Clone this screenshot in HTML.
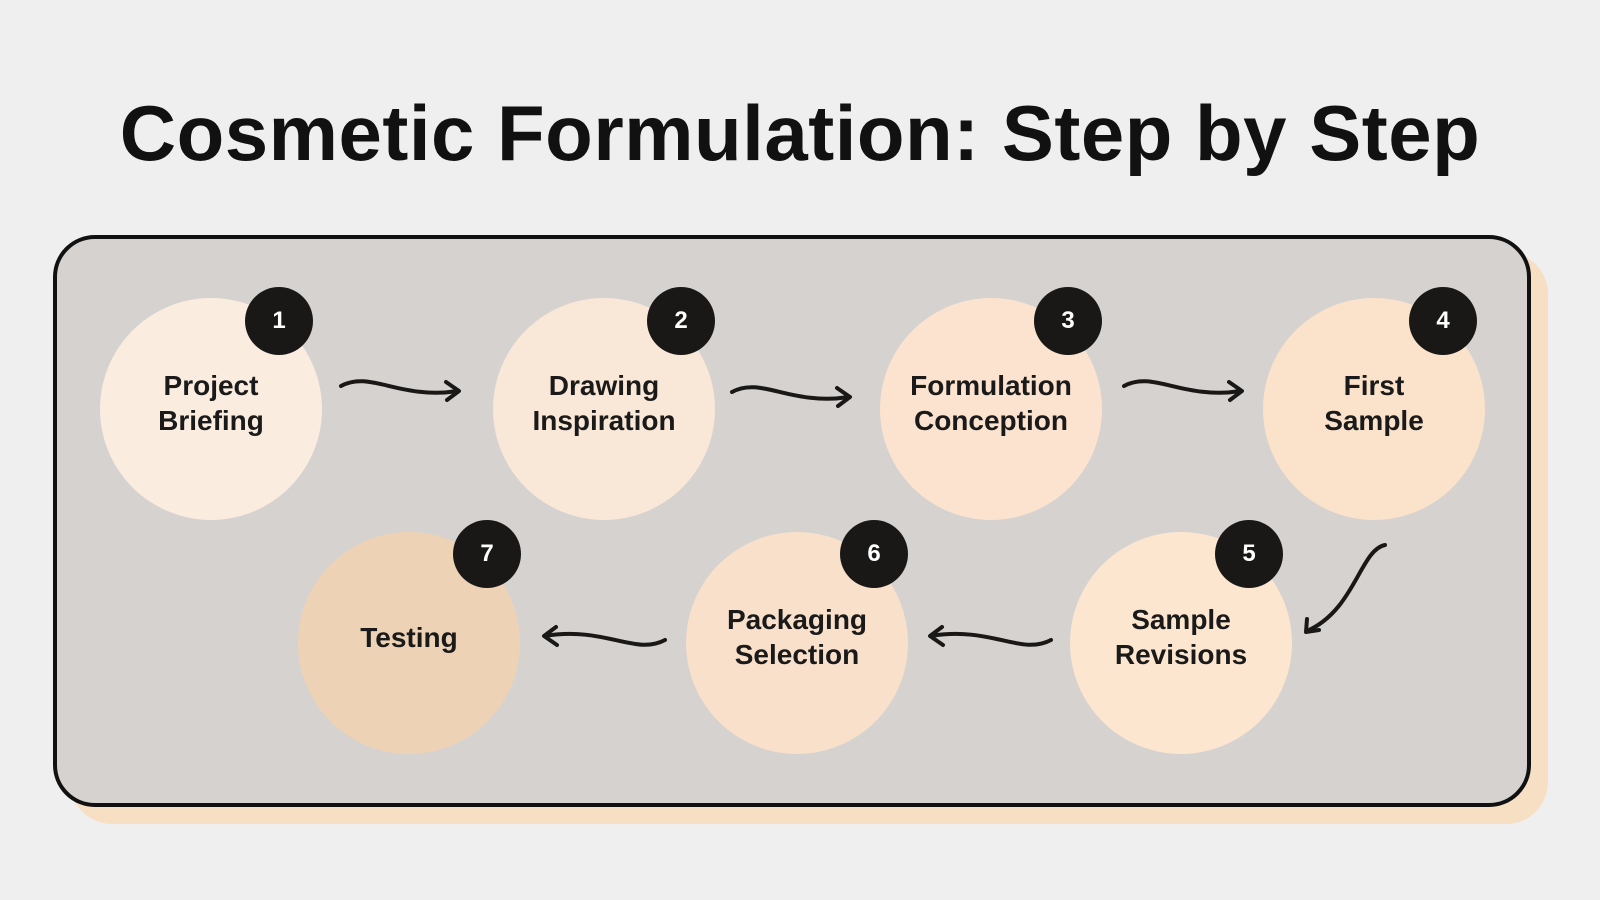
<!DOCTYPE html>
<html><head><meta charset="utf-8"><style>
html,body{margin:0;padding:0;}
body{width:1600px;height:900px;background:#efefef;position:relative;overflow:hidden;font-family:"Liberation Sans",sans-serif;}
.title{position:absolute;left:0;width:1600px;top:88px;text-align:center;font-size:78px;font-weight:bold;color:#111;letter-spacing:0.5px;}
.shadow{position:absolute;left:70px;top:252px;width:1478px;height:572px;background:#f7dfc4;border-radius:42px;}
.box{position:absolute;left:53px;top:235px;width:1470px;height:564px;background:#d5d2d0;border:4px solid #111;border-radius:42px;}
.c{position:absolute;width:222px;height:222px;box-sizing:border-box;padding-bottom:12px;border-radius:50%;display:flex;align-items:center;justify-content:center;text-align:center;font-weight:bold;font-size:28px;line-height:35px;color:#1a1a1a;}
.b{position:absolute;width:68px;height:68px;border-radius:50%;background:#1a1817;color:#fff;font-weight:bold;font-size:24px;display:flex;align-items:center;justify-content:center;}
svg{position:absolute;left:0;top:0;}
</style></head><body>
<div class="title">Cosmetic Formulation: Step by Step</div>
<div class="shadow"></div>
<div class="box"></div>

<div class="c" style="left:100px;top:298px;background:#fbece0">Project<br>Briefing</div>
<div class="c" style="left:493px;top:298px;background:#f9e8d8">Drawing<br>Inspiration</div>
<div class="c" style="left:880px;top:298px;background:#fbe3cf">Formulation<br>Conception</div>
<div class="c" style="left:1263px;top:298px;background:#fbe2cb">First<br>Sample</div>
<div class="c" style="left:298px;top:532px;background:#edd2b6">Testing</div>
<div class="c" style="left:686px;top:532px;background:#f8e0ca">Packaging<br>Selection</div>
<div class="c" style="left:1070px;top:532px;background:#fde6cf">Sample<br>Revisions</div>

<div class="b" style="left:245px;top:287px">1</div>
<div class="b" style="left:647px;top:287px">2</div>
<div class="b" style="left:1034px;top:287px">3</div>
<div class="b" style="left:1409px;top:287px">4</div>
<div class="b" style="left:1215px;top:520px">5</div>
<div class="b" style="left:840px;top:520px">6</div>
<div class="b" style="left:453px;top:520px">7</div>

<svg width="1600" height="900" fill="none" stroke="#1a1817" stroke-width="4" stroke-linecap="round" stroke-linejoin="round">
<g>
<path d="M341 386 C370 370 400 400 458 391"/><path d="M446 382 L459 391 L447 400"/>
</g>
<g transform="translate(391,6)">
<path d="M341 386 C370 370 400 400 458 391"/><path d="M446 382 L459 391 L447 400"/>
</g>
<g transform="translate(783,0)">
<path d="M341 386 C370 370 400 400 458 391"/><path d="M446 382 L459 391 L447 400"/>
</g>
<path d="M1385 545 C1360 550 1355 610 1307 631"/><path d="M1307 619 L1306 632 L1319 630"/>
<g transform="translate(1599,1278) rotate(180)">
<path d="M548 638 C578 622 608 652 668 642"/><path d="M656 633 L669 642 L657 651"/>
</g>
<g transform="translate(1213,1278) rotate(180)">
<path d="M548 638 C578 622 608 652 668 642"/><path d="M656 633 L669 642 L657 651"/>
</g>
</svg>
</body></html>
